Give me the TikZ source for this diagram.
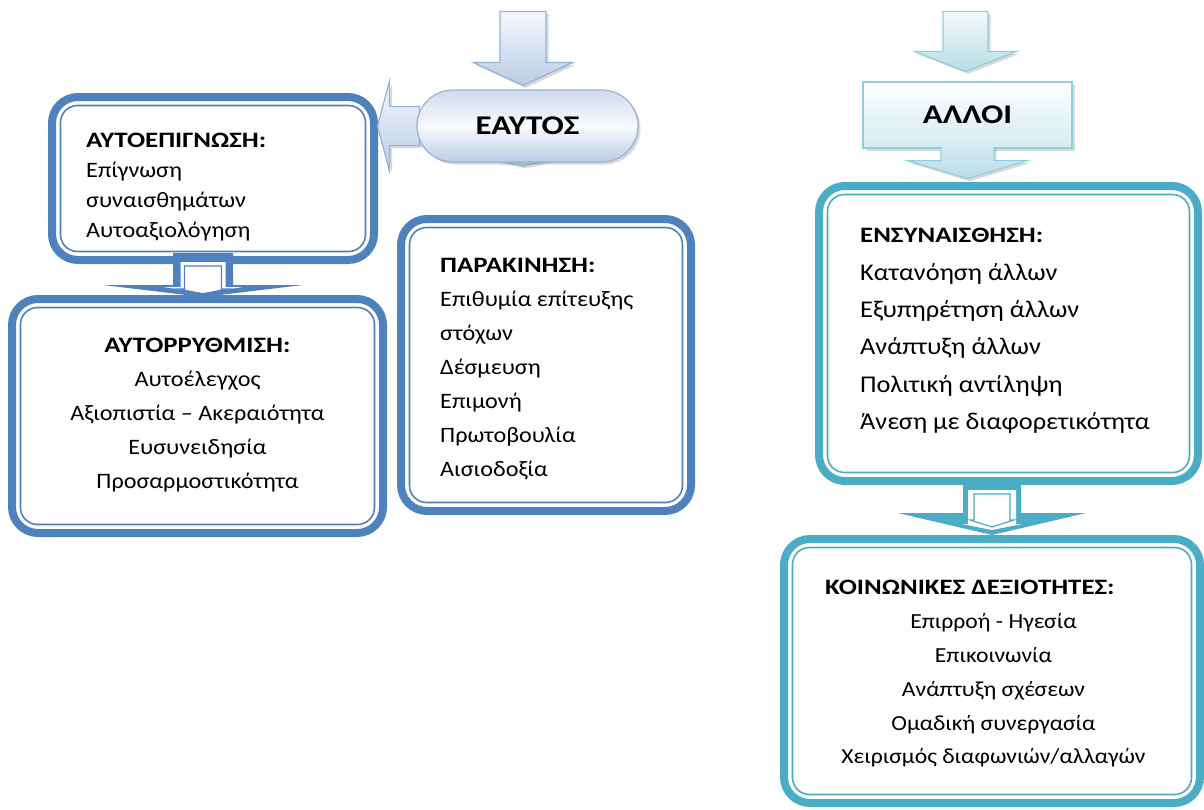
\documentclass[tikz,border=0pt]{standalone}
\usepackage{fontspec}
\setmainfont{Carlito}[FakeStretch=1.1]
\newfontfamily\titlefont{Carlito}[FakeStretch=1.22]
\usetikzlibrary{calc,shadows}

\definecolor{boxblue}{HTML}{4F81BD}
\definecolor{boxteal}{HTML}{4BACC6}
\definecolor{blueline}{HTML}{95B3D7}
\definecolor{bluefill}{HTML}{B9CDE5}
\definecolor{tealline}{HTML}{92CDDC}
\definecolor{tealfill}{HTML}{B7DEE8}

\tikzset{
  skillbox/.style={rectangle, draw=#1, line width=8pt, rounded corners=26pt, fill=white},
  skillline/.style={draw=#1, line width=1.6pt, rounded corners=17pt},
  shadearrow/.style={draw=#1line, line width=1.2pt, top color=#1fill!15, bottom color=#1fill,
    drop shadow={opacity=0.3, shadow xshift=2.5pt, shadow yshift=-2.5pt}},
  heading/.style={inner sep=0pt, font=\fontsize{22}{34}\titlefont\bfseries},
  listtext/.style={inner sep=0pt, align=left, font=\fontsize{22}{34}\selectfont},
}

% block arrows: style, tip, length, shaft half width, head half width, head length
\newcommand{\downblock}[6]{%
  \path[#1] (#2) -- ($(#2)+(-#5pt,#6pt)$) -- ($(#2)+(-#4pt,#6pt)$) -- ($(#2)+(-#4pt,#3pt)$)
    -- ($(#2)+(#4pt,#3pt)$) -- ($(#2)+(#4pt,#6pt)$) -- ($(#2)+(#5pt,#6pt)$) -- cycle;}
\newcommand{\leftblock}[6]{%
  \path[#1] (#2) -- ($(#2)+(#6pt,#5pt)$) -- ($(#2)+(#6pt,#4pt)$) -- ($(#2)+(#3pt,#4pt)$)
    -- ($(#2)+(#3pt,-#4pt)$) -- ($(#2)+(#6pt,-#4pt)$) -- ($(#2)+(#6pt,-#5pt)$) -- cycle;}
% thin inner border of a box
\newcommand{\innerline}[2]{%
  \draw[skillline=#2] ([shift={(12.5pt,-12.5pt)}]#1.north west) rectangle ([shift={(-12.5pt,12.5pt)}]#1.south east);}
\newcommand{\boxtitle}[1]{{\fontsize{22}{34}\titlefont\bfseries #1}}

\begin{document}
\begin{tikzpicture}[x=1pt, y=-1pt]
  \useasboundingbox (0,0) rectangle (1204,809);

  % boxes
  \node[skillbox=boxblue, minimum width=322pt, minimum height=163pt] (awareness) at (213,178.5) {};
  \node[skillbox=boxblue, minimum width=371pt, minimum height=234pt] (regulation) at (197.5,416) {};
  \node[skillbox=boxblue, minimum width=290pt, minimum height=292pt] (motivation) at (546,365) {};
  \node[skillbox=boxteal, minimum width=379pt, minimum height=295pt] (empathy) at (1008.5,333.5) {};
  \node[skillbox=boxteal, minimum width=416pt, minimum height=264pt] (social) at (992,671) {};
  \innerline{awareness}{boxblue}
  \innerline{regulation}{boxblue}
  \innerline{motivation}{boxblue}
  \innerline{empathy}{boxteal}
  \innerline{social}{boxteal}

  % texts
  \node[listtext, anchor=north west] (awaretext) at ([shift={(38pt,-40pt)}]awareness.north west)
    {\boxtitle{ΑΥΤΟΕΠΙΓΝΩΣΗ:}\\[-4pt] Επίγνωση\\[-4pt] συναισθημάτων\\[-4pt] Αυτοαξιολόγηση};
  \node[listtext, align=center, anchor=north] (regtext) at ([yshift=-43pt]regulation.north)
    {\boxtitle{ΑΥΤΟΡΡΥΘΜΙΣΗ:}\\ Αυτοέλεγχος\\ Αξιοπιστία – Ακεραιότητα\\ Ευσυνειδησία\\ Προσαρμοστικότητα};
  \node[listtext, anchor=north west] (mottext) at ([shift={(43pt,-43pt)}]motivation.north west)
    {\boxtitle{ΠΑΡΑΚΙΝΗΣΗ:}\\ Επιθυμία επίτευξης\\ στόχων\\ Δέσμευση\\ Επιμονή\\ Πρωτοβουλία\\ Αισιοδοξία};
  \node[listtext, font=\fontsize{24}{37.4}\selectfont, anchor=north west] (emptext) at ([shift={(45pt,-46pt)}]empathy.north west)
    {\boxtitle{ΕΝΣΥΝΑΙΣΘΗΣΗ:}\\ Κατανόηση άλλων\\ Εξυπηρέτηση άλλων\\ Ανάπτυξη άλλων\\ Πολιτική αντίληψη\\ Άνεση με διαφορετικότητα};
  \node[heading, anchor=west] (socialtitle) at ([shift={(45pt,-52pt)}]social.north west) {ΚΟΙΝΩΝΙΚΕΣ ΔΕΞΙΟΤΗΤΕΣ:};
  \node[listtext, align=center, font=\fontsize{21.5}{33.75}\selectfont, anchor=north] (socialtext) at ([xshift=1.5pt,yshift=-78.5pt]social.north)
    {Επιρροή - Ηγεσία\\ Επικοινωνία\\ Ανάπτυξη σχέσεων\\ Ομαδική συνεργασία\\ Χειρισμός διαφωνιών/αλλαγών};

  % framed arrows between boxes
  \coordinate (abtip) at ([xshift=5.5pt,yshift=-2pt]regulation.north);
  \downblock{fill=boxblue}{abtip}{44}{30}{100}{12}
  \downblock{fill=white}{[yshift=4pt]abtip}{31}{22.5}{40}{6}
  \downblock{draw=boxblue, line width=1.2pt}{[yshift=3pt]abtip}{28}{18.5}{24}{5}
  \downblock{fill=boxteal}{social.north}{57}{29}{94}{22}
  \downblock{fill=white}{[yshift=5pt]social.north}{40}{24}{30}{6}
  \downblock{draw=boxteal, line width=1.2pt}{[yshift=8pt]social.north}{33}{18}{22}{7}

  % self
  \coordinate (selfpos) at (527.5,126);
  \downblock{shadearrow=blue}{[xshift=-4.5pt,yshift=-40pt]selfpos}{52}{22.5}{55.5}{12}
  \leftblock{shadearrow=blue}{[xshift=-150pt]selfpos}{42}{19.5}{45}{12}
  \node[rounded corners=36pt, minimum width=221pt, minimum height=72pt, draw=blueline, line width=1.2pt,
    top color=bluefill!70, bottom color=bluefill, middle color=white!90!bluefill,
    drop shadow={opacity=0.3, shadow xshift=2.5pt, shadow yshift=-2.5pt},
    font=\fontsize{27}{34}\titlefont\bfseries] (self) at (selfpos) {ΕΑΥΤΟΣ};
  \downblock{shadearrow=blue}{[xshift=-4.5pt,yshift=4pt]self.north}{74}{23}{50}{23}

  % others
  \node[minimum width=209pt, minimum height=66pt, draw=tealline, line width=1.2pt,
    top color=white, bottom color=tealfill!60,
    drop shadow={opacity=0.3, shadow xshift=2.5pt, shadow yshift=-2.5pt},
    font=\fontsize{27}{34}\titlefont\bfseries] (others) at (967.5,115) {ΑΛΛΟΙ};
  \downblock{shadearrow=teal}{[xshift=-2pt,yshift=10pt]others.north}{60}{22.5}{51}{20}
  \coordinate (othertip) at ([yshift=-30pt]others.south);
  \path[draw=tealline, line width=1.2pt, top color=tealfill!60, bottom color=tealfill,
    drop shadow={opacity=0.3, shadow xshift=2.5pt, shadow yshift=-2.5pt}]
    ($(othertip)+(-26.5pt,32pt)$) -- ($(othertip)+(-26.5pt,18pt)$) -- ($(othertip)+(-60pt,18pt)$) -- (othertip)
    -- ($(othertip)+(60pt,18pt)$) -- ($(othertip)+(26.5pt,18pt)$) -- ($(othertip)+(26.5pt,32pt)$);
\end{tikzpicture}
\end{document}
